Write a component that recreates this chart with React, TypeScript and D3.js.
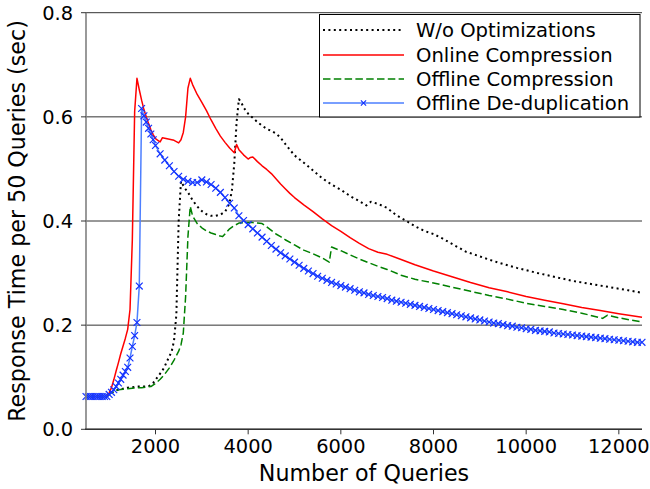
import * as d3 from "d3";

// W/o Optimizations
const baseQ = [500, 950, 1000, 1100, 1200, 1300, 1400, 1500, 1600, 1700, 1800, 1850, 1900, 1950, 2000, 2050, 2100, 2150, 2200, 2250, 2300, 2350, 2400, 2450, 2500, 2550, 2600, 2650, 2700, 2800, 2900, 3000, 3100, 3200, 3300, 3400, 3500, 3550, 3600, 3650, 3700, 3750, 3800, 3850, 3900, 4000, 4100, 4200, 4300, 4400, 4500, 4600, 4700, 4800, 4900, 5000, 5200, 5400, 5600, 5800, 6000, 6200, 6400, 6550, 6650, 6800, 7000, 7200, 7400, 7600, 7800, 8000, 8200, 8400, 8700, 9000, 9400, 9800, 10200, 10600, 11000, 11400, 11800, 12200, 12500];
const baseT = [0.063, 0.063, 0.067, 0.073, 0.076, 0.078, 0.080, 0.081, 0.082, 0.082, 0.082, 0.083, 0.085, 0.089, 0.095, 0.101, 0.107, 0.113, 0.121, 0.131, 0.140, 0.150, 0.170, 0.220, 0.400, 0.476, 0.468, 0.461, 0.455, 0.440, 0.428, 0.419, 0.413, 0.410, 0.410, 0.412, 0.418, 0.425, 0.435, 0.460, 0.510, 0.590, 0.634, 0.628, 0.618, 0.606, 0.598, 0.590, 0.583, 0.577, 0.573, 0.568, 0.560, 0.548, 0.537, 0.526, 0.512, 0.497, 0.482, 0.470, 0.460, 0.448, 0.438, 0.430, 0.437, 0.433, 0.425, 0.411, 0.401, 0.390, 0.381, 0.375, 0.366, 0.356, 0.341, 0.332, 0.320, 0.310, 0.301, 0.293, 0.285, 0.279, 0.273, 0.267, 0.262];

// Online Compression
const onlineQ = [500, 950, 1000, 1050, 1100, 1150, 1200, 1250, 1300, 1350, 1400, 1450, 1500, 1550, 1600, 1650, 1700, 1750, 1800, 1850, 1900, 1950, 2000, 2050, 2100, 2150, 2200, 2300, 2400, 2500, 2550, 2600, 2650, 2700, 2750, 2800, 2900, 3000, 3100, 3200, 3300, 3400, 3500, 3600, 3700, 3750, 3800, 3900, 4000, 4050, 4100, 4200, 4300, 4400, 4500, 4600, 4700, 4800, 4900, 5000, 5200, 5400, 5600, 5800, 6000, 6200, 6400, 6600, 6800, 7000, 7300, 7600, 8000, 8400, 8800, 9200, 9600, 10000, 10400, 10800, 11200, 11600, 12000, 12500];
const onlineT = [0.063, 0.063, 0.070, 0.080, 0.095, 0.112, 0.128, 0.145, 0.160, 0.175, 0.192, 0.230, 0.364, 0.610, 0.674, 0.652, 0.632, 0.614, 0.600, 0.587, 0.575, 0.566, 0.558, 0.555, 0.552, 0.560, 0.559, 0.557, 0.555, 0.550, 0.556, 0.570, 0.600, 0.655, 0.674, 0.662, 0.643, 0.628, 0.612, 0.594, 0.578, 0.563, 0.551, 0.540, 0.531, 0.547, 0.537, 0.527, 0.519, 0.522, 0.523, 0.514, 0.506, 0.499, 0.491, 0.481, 0.471, 0.462, 0.453, 0.445, 0.431, 0.418, 0.404, 0.391, 0.380, 0.368, 0.357, 0.347, 0.340, 0.336, 0.326, 0.316, 0.304, 0.293, 0.282, 0.272, 0.264, 0.255, 0.248, 0.241, 0.234, 0.228, 0.222, 0.215];

// Offline Compression
const offlineQ = [500, 950, 1000, 1100, 1200, 1300, 1400, 1500, 1600, 1700, 1800, 1900, 2000, 2100, 2200, 2300, 2400, 2500, 2550, 2600, 2650, 2700, 2750, 2800, 2900, 3000, 3100, 3200, 3300, 3400, 3450, 3500, 3600, 3700, 3800, 3900, 4000, 4100, 4200, 4300, 4400, 4500, 4600, 4700, 4800, 5000, 5200, 5400, 5600, 5750, 5800, 6000, 6200, 6400, 6600, 6800, 7000, 7300, 7600, 8000, 8400, 8800, 9200, 9600, 10000, 10400, 10800, 11200, 11650, 11750, 12000, 12500];
const offlineT = [0.063, 0.063, 0.067, 0.073, 0.076, 0.077, 0.078, 0.079, 0.080, 0.080, 0.081, 0.082, 0.088, 0.096, 0.106, 0.118, 0.133, 0.150, 0.162, 0.185, 0.255, 0.370, 0.428, 0.410, 0.395, 0.387, 0.381, 0.377, 0.374, 0.371, 0.370, 0.375, 0.385, 0.391, 0.396, 0.397, 0.397, 0.397, 0.396, 0.395, 0.389, 0.382, 0.375, 0.370, 0.364, 0.354, 0.344, 0.337, 0.329, 0.321, 0.350, 0.343, 0.335, 0.327, 0.320, 0.313, 0.307, 0.296, 0.288, 0.281, 0.273, 0.265, 0.257, 0.250, 0.242, 0.236, 0.230, 0.223, 0.213, 0.219, 0.214, 0.206];

// Offline De-duplication
const dedupQ = [500, 550, 600, 650, 700, 750, 800, 850, 900, 950, 1000, 1050, 1100, 1150, 1200, 1250, 1300, 1350, 1400, 1450, 1500, 1550, 1600, 1650, 1700, 1750, 1800, 1850, 1900, 1950, 2000, 2100, 2200, 2300, 2400, 2500, 2600, 2700, 2800, 2900, 3000, 3100, 3200, 3300, 3400, 3500, 3600, 3700, 3800, 3900, 4000, 4100, 4200, 4300, 4400, 4500, 4600, 4700, 4800, 4900, 5000, 5100, 5200, 5300, 5400, 5500, 5600, 5700, 5800, 5900, 6000, 6100, 6200, 6300, 6400, 6500, 6600, 6700, 6800, 6900, 7000, 7100, 7200, 7300, 7400, 7500, 7600, 7700, 7800, 7900, 8000, 8100, 8200, 8300, 8400, 8500, 8600, 8700, 8800, 8900, 9000, 9100, 9200, 9300, 9400, 9500, 9600, 9700, 9800, 9900, 10000, 10100, 10200, 10300, 10400, 10500, 10600, 10700, 10800, 10900, 11000, 11100, 11200, 11300, 11400, 11500, 11600, 11700, 11800, 11900, 12000, 12100, 12200, 12300, 12400, 12500];
const dedupT = [0.063, 0.063, 0.063, 0.063, 0.063, 0.063, 0.063, 0.063, 0.063, 0.063, 0.067, 0.071, 0.076, 0.082, 0.089, 0.096, 0.104, 0.111, 0.119, 0.137, 0.159, 0.180, 0.205, 0.275, 0.616, 0.602, 0.590, 0.578, 0.567, 0.556, 0.545, 0.529, 0.517, 0.506, 0.495, 0.486, 0.480, 0.476, 0.474, 0.474, 0.479, 0.475, 0.470, 0.463, 0.455, 0.445, 0.434, 0.425, 0.410, 0.401, 0.393, 0.385, 0.377, 0.369, 0.361, 0.353, 0.346, 0.339, 0.333, 0.327, 0.321, 0.315, 0.309, 0.304, 0.299, 0.294, 0.290, 0.286, 0.282, 0.279, 0.276, 0.273, 0.270, 0.267, 0.264, 0.262, 0.259, 0.257, 0.255, 0.253, 0.251, 0.248, 0.246, 0.244, 0.242, 0.240, 0.238, 0.236, 0.234, 0.232, 0.230, 0.228, 0.226, 0.224, 0.222, 0.220, 0.218, 0.216, 0.214, 0.212, 0.210, 0.208, 0.206, 0.204, 0.203, 0.201, 0.199, 0.198, 0.196, 0.195, 0.193, 0.192, 0.190, 0.189, 0.188, 0.187, 0.185, 0.184, 0.183, 0.182, 0.181, 0.180, 0.179, 0.178, 0.177, 0.176, 0.175, 0.174, 0.173, 0.172, 0.171, 0.170, 0.169, 0.168, 0.167, 0.167, 0.166];

const xTicks = [2000, 4000, 6000, 8000, 10000, 12000];
const yTicks = [0.0, 0.2, 0.4, 0.6, 0.8];

const legendLabels = ["W/o Optimizations", "Online Compression", "Offline Compression", "Offline De-duplication"];

const W = 650;
const H = 489;
const margin = { top: 12.7, right: 8, bottom: 59.7, left: 86 };
const FONT = "DejaVu Sans, sans-serif";
const TICK_FS = 19.4;
const LABEL_FS = 22.2;

const styles = [
  { color: "#000000", dash: "2,3.4", width: 2 },
  { color: "#ff0000", dash: null, width: 1.5 },
  { color: "#008000", dash: "7.5,3.3", width: 1.5 },
  { color: "#4d7fff", dash: null, width: 1.5 },
];
const MARK = "#1433ff";

export default function App() {
  const x = d3.scaleLinear().domain([500, 12500]).range([margin.left, W - margin.right]);
  const y = d3.scaleLinear().domain([0, 0.8]).range([H - margin.bottom, margin.top]);

  const line = d3
    .line<[number, number]>()
    .x((d) => x(d[0]))
    .y((d) => y(d[1]));

  const series = [
    d3.zip(baseQ, baseT) as [number, number][],
    d3.zip(onlineQ, onlineT) as [number, number][],
    d3.zip(offlineQ, offlineT) as [number, number][],
    d3.zip(dedupQ, dedupT) as [number, number][],
  ];

  const x0 = margin.left;
  const x1 = W - margin.right;
  const yb = H - margin.bottom;

  const cross = (cx: number, cy: number, r: number, key: string | number) => (
    <path
      key={key}
      d={`M${cx - r},${cy - r}L${cx + r},${cy + r}M${cx - r},${cy + r}L${cx + r},${cy - r}`}
      stroke={MARK}
      strokeWidth={1.2}
      fill="none"
    />
  );

  // legend
  const lg = { x: 319.5, y: 14.5, w: 320.5, h: 102.5 };
  const rowY = [30, 55, 79, 103];

  return (
    <svg width={W} height={H} style={{ position: "absolute", left: 0, top: 0, background: "#fff" }} fontFamily={FONT}>
      <rect width={W} height={H} fill="#fff" />
      {/* grid */}
      {yTicks.map((t) => (
        <line key={t} x1={x0} x2={x1} y1={y(t)} y2={y(t)} stroke="#333" strokeWidth={1} />
      ))}

      {/* series */}
      {series.map((s, i) => (
        <path
          key={i}
          d={line(s) || ""}
          fill="none"
          stroke={styles[i].color}
          strokeWidth={styles[i].width}
          strokeDasharray={styles[i].dash || undefined}
          strokeLinejoin="round"
        />
      ))}
      {series[3].map((d, i) => cross(x(d[0]), y(d[1]), 3.4, i))}

      {/* axes */}
      <line x1={x0} x2={x0} y1={margin.top} y2={yb} stroke="#808080" strokeWidth={1.6} />
      <line x1={x0 - 1} x2={x1} y1={yb} y2={yb} stroke="#333" strokeWidth={1.5} />
      {xTicks.map((t) => (
        <g key={t}>
          <line x1={x(t)} x2={x(t)} y1={yb} y2={yb + 5} stroke="#333" strokeWidth={1} />
          <text x={x(t)} y={yb + 23.5} fontSize={TICK_FS} textAnchor="middle" fill="#000">
            {t}
          </text>
        </g>
      ))}
      {yTicks.map((t) => (
        <g key={t}>
          <line x1={x0 - 5} x2={x0} y1={y(t)} y2={y(t)} stroke="#333" strokeWidth={1} />
          <text x={x0 - 13} y={y(t) + 7} fontSize={TICK_FS} textAnchor="end" fill="#000">
            {d3.format(".1f")(t)}
          </text>
        </g>
      ))}

      <text x={(x0 + x1) / 2} y={481} fontSize={LABEL_FS} textAnchor="middle" fill="#000">
        Number of Queries
      </text>
      <text
        transform={`translate(24.5,${(margin.top + yb) / 2}) rotate(-90)`}
        fontSize={LABEL_FS}
        textAnchor="middle"
        fill="#000"
      >
        Response Time per 50 Queries (sec)
      </text>

      {/* legend */}
      <rect x={lg.x} y={lg.y} width={lg.w} height={lg.h} fill="#fff" stroke="#000" strokeWidth={1} />
      {legendLabels.map((lab, i) => (
        <g key={lab}>
          <line
            x1={323}
            x2={404}
            y1={rowY[i]}
            y2={rowY[i]}
            stroke={styles[i].color}
            strokeWidth={styles[i].width}
            strokeDasharray={styles[i].dash || undefined}
          />
          {i === 3 && cross(363.5, rowY[i], 2.6, "lm")}
          <text x={416} y={rowY[i] + 7} fontSize={19.6} fill="#000">
            {lab}
          </text>
        </g>
      ))}
    </svg>
  );
}
